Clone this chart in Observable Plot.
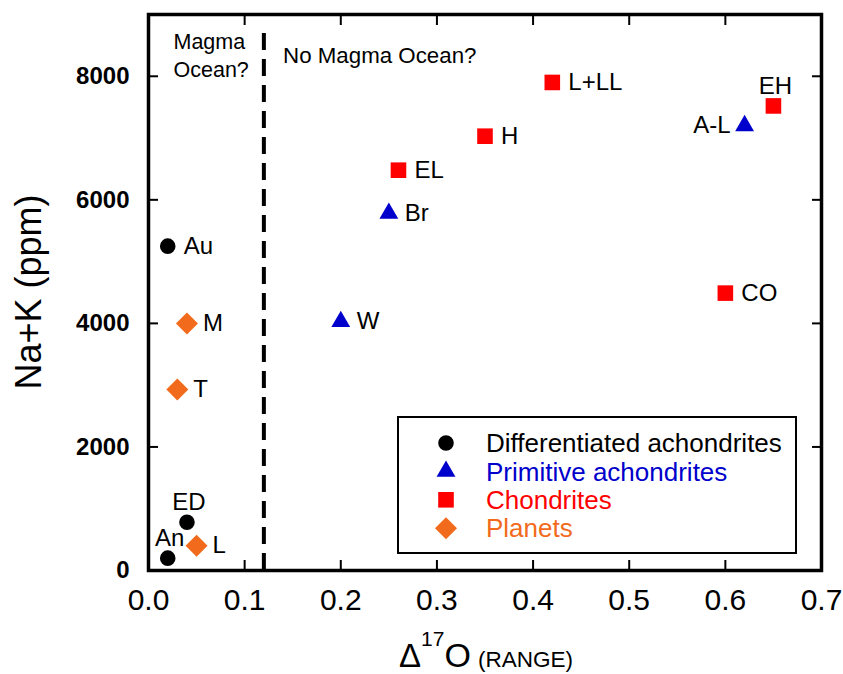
<!DOCTYPE html>
<html>
<head>
<meta charset="utf-8">
<script src="https://cdn.jsdelivr.net/npm/d3@7"></script>
<script src="https://cdn.jsdelivr.net/npm/@observablehq/plot@0.6"></script>
<style>
  body { margin: 0; background: #fff; }
  #chart svg { display: block; }
</style>
</head>
<body>
<div id="chart"></div>
<script>
// Meteorite groups and planets: oxygen-isotope spread vs. bulk Na+K content
const names  = ["Au", "An", "ED", "W", "Br", "A-L", "EL", "H", "L+LL", "EH", "CO", "M", "T", "L"];
const d17O   = [0.02, 0.02, 0.04, 0.20, 0.25, 0.62, 0.26, 0.35, 0.42, 0.65, 0.60, 0.04, 0.03, 0.05];
const naK    = [5250, 200, 780, 4030, 5780, 7200, 6480, 7030, 7900, 7520, 4490, 4000, 2930, 400];
const groupOf = ["diff", "diff", "diff", "prim", "prim", "prim", "chon", "chon", "chon", "chon", "chon", "planet", "planet", "planet"];

const groupKeys   = ["diff", "prim", "chon", "planet"];
const groupLabels = ["Differentiated achondrites", "Primitive achondrites", "Chondrites", "Planets"];

const xTicks = [0, 0.1, 0.2, 0.3, 0.4, 0.5, 0.6, 0.7];
const yTicks = [0, 2000, 4000, 6000, 8000];

// Boundary between the two regimes
const dividerX = 0.12;
const dividerTop = 8760;
const regionText = ["Magma\nOcean?", "No Magma Ocean?"];
const regionX = [0.026, 0.140];
const regionY = [8360, 8360];

// Styling per group
const style = {
  diff:   { color: "#000000", symbol: "circle",   r: 7.8 },
  prim:   { color: "#0000cc", symbol: "triangle", r: 7.0 },
  chon:   { color: "#ff0000", symbol: "square",   r: 8.8 },
  planet: { color: "#f26a1b", symbol: "diamond2", r: 9.9 }
};
// Where each label sits relative to its marker (default: right)
const placement = { "An": "above", "ED": "above", "EH": "above", "A-L": "left" };

const rows = names.map((name, i) => ({ name, x: d17O[i], y: naK[i], group: groupOf[i] }));
const place = d => placement[d.name] || "right";

const font = "Liberation Sans, Arial, Helvetica, sans-serif";

const dotMarks = groupKeys.map(g => Plot.dot(rows.filter(d => d.group === g), {
  x: "x", y: "y",
  symbol: () => style[g].symbol,
  fill: style[g].color,
  stroke: "none",
  r: style[g].r
}));

const chart = Plot.plot({
  width: 843,
  height: 674,
  marginLeft: 148,
  marginRight: 22,
  marginTop: 14,
  marginBottom: 104,
  style: { fontFamily: font, background: "#fff", overflow: "visible" },
  x: { domain: [0, 0.7] },
  y: { domain: [0, 9000] },
  symbol: { type: "identity" },
  marks: [
    Plot.ruleX([dividerX], { y1: 0, y2: dividerTop, stroke: "#000", strokeWidth: 4, strokeDasharray: "17,9" }),
    Plot.axisX({ anchor: "bottom", ticks: xTicks, tickSize: -10, tickPadding: 28, strokeWidth: 2,
                 tickFormat: d3.format(".1f"), fontSize: 30, fill: "#000", label: null }),
    Plot.axisX({ anchor: "top", ticks: xTicks, tickSize: -10, strokeWidth: 2, tickFormat: () => "", label: null }),
    Plot.axisY({ anchor: "left", ticks: yTicks, tickSize: -10, tickPadding: 29, strokeWidth: 2,
                 tickFormat: d => String(d), fontSize: 24, fontWeight: "bold", fill: "#000", label: null }),
    Plot.axisY({ anchor: "right", ticks: yTicks, tickSize: -10, strokeWidth: 2, tickFormat: () => "", label: null }),
    Plot.text(regionText, { x: (d, i) => regionX[i], y: (d, i) => regionY[i], text: d => d,
                            textAnchor: "start", lineAnchor: "middle", lineHeight: 1.32,
                            fontSize: (d, i) => (i === 0 ? 21.5 : 22.3), fill: "#000" }),
    ...dotMarks,
    Plot.text(rows.filter(d => place(d) === "right"), { x: "x", y: "y", text: "name", textAnchor: "start", dx: 16, fontSize: 24, fill: "#000" }),
    Plot.text(rows.filter(d => place(d) === "left"), { x: "x", y: "y", text: "name", textAnchor: "end", dx: -14, fontSize: 24, fill: "#000" }),
    Plot.text(rows.filter(d => place(d) === "above"), { x: "x", y: "y", text: "name", textAnchor: "middle", dx: 2, dy: -20, fontSize: 24, fill: "#000" }),
    Plot.frame({ stroke: "#000", strokeWidth: 3.5 })
  ]
});

document.getElementById("chart").append(chart);

// Axis titles and the in-plot legend
const svg = d3.select(chart);

svg.append("text")
  .attr("transform", "translate(41,292) rotate(-90)")
  .attr("text-anchor", "middle")
  .attr("font-family", font)
  .attr("font-size", 36)
  .attr("fill", "#000")
  .text("Na+K (ppm)");

const xt = svg.append("text")
  .attr("x", 486).attr("y", 667)
  .attr("text-anchor", "middle")
  .attr("font-family", font)
  .attr("fill", "#000");
xt.append("tspan").attr("font-size", 33).text("\u0394");
xt.append("tspan").attr("font-size", 21).attr("dy", -21).text("17");
xt.append("tspan").attr("font-size", 34).attr("dy", 21).text("O");
xt.append("tspan").attr("font-size", 22.5).attr("dx", 7).text("(RANGE)");

const lg = svg.append("g").attr("font-family", font).attr("text-anchor", "start");
lg.append("rect")
  .attr("x", 398).attr("y", 417).attr("width", 398).attr("height", 136)
  .attr("fill", "#fff").attr("stroke", "#000").attr("stroke-width", 2);
const symbolTypes = { circle: d3.symbolCircle, triangle: d3.symbolTriangle, square: d3.symbolSquare, diamond2: d3.symbolDiamond2 };
groupKeys.forEach((g, i) => {
  const cy = 443 + i * 28.4;
  const s = style[g];
  lg.append("path")
    .attr("transform", `translate(446,${cy})`)
    .attr("d", d3.symbol(symbolTypes[s.symbol], Math.PI * s.r * s.r)())
    .attr("fill", s.color);
  lg.append("text")
    .attr("x", 486).attr("y", cy).attr("dy", "0.35em")
    .attr("text-anchor", "start")
    .attr("font-size", 26)
    .attr("fill", s.color)
    .text(groupLabels[i]);
});
</script>
</body>
</html>
